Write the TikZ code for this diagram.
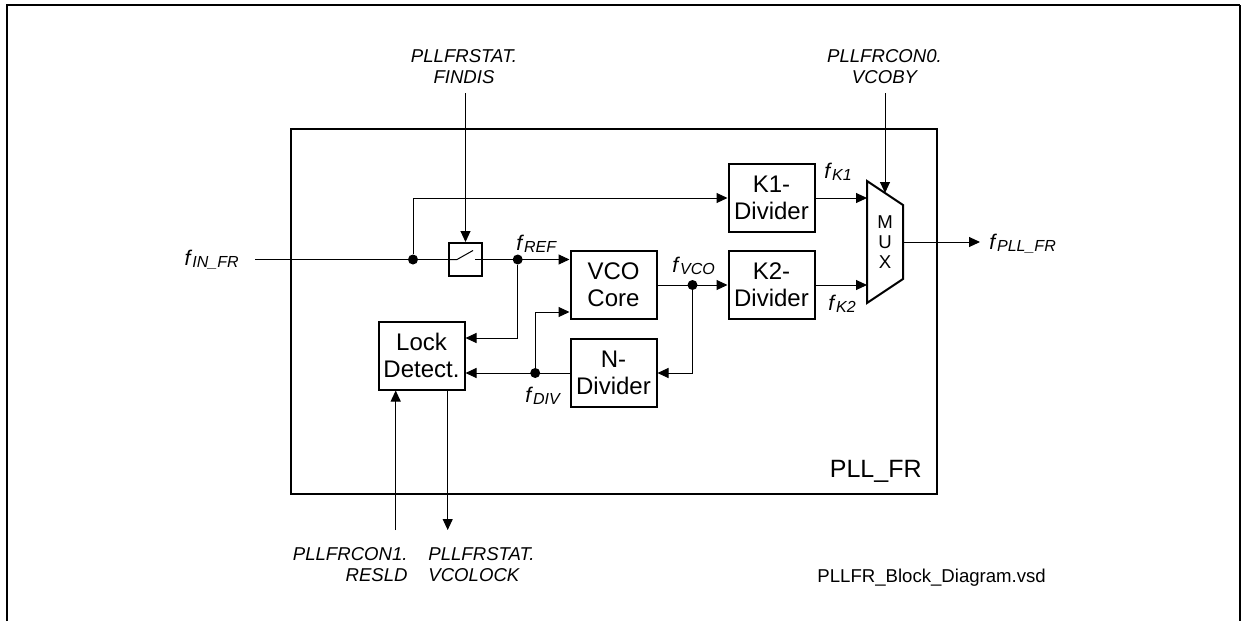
\documentclass[tikz,border=0pt]{standalone}
\usepackage{fontspec}
\setmainfont{Liberation Sans}
\usepackage{tikz}
\usetikzlibrary{arrows.meta,positioning,calc}
\newcommand{\fsig}[1]{\textit{f}\raisebox{-1pt}{\fontsize{8}{8}\selectfont\textit{#1}}}
\tikzset{
  blk/.style  = {draw, line width=1pt, minimum width=43pt, minimum height=34pt,
                 inner sep=1pt, align=center, font=\fontsize{12}{13.5}\selectfont},
  sig/.style  = {-{Triangle[length=5.5pt,width=5pt]}, line width=0.5pt},
  wire/.style = {line width=0.5pt},
  jdot/.style = {circle, fill, inner sep=0pt, minimum size=5pt},
  reg/.style  = {font=\fontsize{9.3}{10.5}\selectfont\itshape, inner sep=0pt, align=center},
  flbl/.style = {font=\fontsize{10.6}{12}\selectfont, inner sep=0pt},
}
\begin{document}
\begin{tikzpicture}[x=0.5pt, y=-0.5pt, node distance=9pt and 35pt]
  \useasboundingbox (0,0) rectangle (1241,621);
  % page frame
  \draw[line width=1pt] (7,621) -- (7,5) -- (1240,5);
  \draw[line width=0.75pt] (1240,5) -- (1240,621);
  % PLL_FR module
  \node[draw, line width=1pt, minimum width=323pt, minimum height=182.5pt, anchor=north west] (pll) at (290,128) {};
  \node[anchor=base east, inner sep=0pt, font=\fontsize{12.5}{14}\selectfont] (pllname) at (922,477) {PLL\_FR};
  % blocks
  \node[blk] (vco) at (613.5,285) {VCO\\Core};
  \node[blk, right=of vco] (k2) {K2-\\Divider};
  \node[blk, above=8.5pt of k2] (k1) {K1-\\Divider};
  \node[blk, below=of vco] (ndiv) {N-\\Divider};
  \node[blk] (lock) at (421.5,355.5) {Lock\\Detect.};
  \node[draw, line width=1pt, minimum size=16.5pt, inner sep=0pt] (sw) at (465.5,259.5) {};
  % multiplexer
  \node[align=center, minimum width=18pt, minimum height=61pt, inner sep=0pt, outer sep=0pt,
        font=\fontsize{9.3}{10}\selectfont] (mux) at (885,242) {M\\U\\X};
  \draw[line width=1pt] (mux.north west) -- ($(mux.north east)+(0,24)$)
    -- ($(mux.south east)+(0,-24)$) -- (mux.south west) -- cycle;
  % junctions
  \coordinate (fin) at (255,259.5);
  \node[jdot] (din) at (413,259.5) {};
  \node[jdot] (dref) at (517.7,259.5) {};
  \node[jdot] (dvco) at ($(vco.east)!0.5!(k2.west)$) {};
  \node[jdot] (ddiv) at ($(ndiv.west)+(-34.3,0)$) {};
  % signal paths
  \draw[wire] (fin) -- (sw.west);
  \draw[wire] (sw.west) -- ++(9,0) -- ++(16,-9);
  \draw[wire] ($(sw.east)+(-8,0)$) -- (sw.east);
  \draw[sig] (sw.east) -- (sw.east -| vco.west);
  \draw[sig] (din) |- (k1.west);
  \draw[sig] (dref) |- ($(lock.east)+(0,-17.5)$);
  \draw[sig] (vco.east) -- (k2.west);
  \draw[sig] (dvco) |- (ndiv.east);
  \draw[sig] (ndiv.west) -- (lock.east |- ndiv.west);
  \draw[sig] (ddiv) |- ($(vco.west)+(0,27)$);
  \draw[sig] (k1.east) -- (k1.east -| mux.west);
  \draw[sig] (k2.east) -- (k2.east -| mux.west);
  \coordinate (fout) at (980,242);
  \draw[sig] (mux.east) -- (fout);
  % signal names
  \node[flbl, anchor=base east] (finl) at (239,265) {\fsig{IN\_FR}};
  \node[flbl, anchor=base west] (fpll) at (989,249) {\fsig{PLL\_FR}};
  \node[flbl, anchor=base west] (fref) at (516,250) {\fsig{REF}};
  \node[flbl, anchor=base west] (fvco) at (672,272) {\fsig{VCO}};
  \node[flbl, anchor=base west] (fk1) at (824,178) {\fsig{K1}};
  \node[flbl, anchor=base west] (fk2) at (828,310) {\fsig{K2}};
  \node[flbl, anchor=base west] (fdiv) at (525,402) {\fsig{DIV}};
  % register bits
  \node[reg, outer ysep=4.5pt] (findis) at (464,67) {PLLFRSTAT.\\FINDIS};
  \draw[sig] (findis.south -| sw) -- (sw.north);
  \node[reg, outer ysep=4.5pt] (vcoby) at (884.5,67) {PLLFRCON0.\\VCOBY};
  \draw[sig] (vcoby.south -| mux) -- ($(mux.north)+(0,12)$);
  \node[reg, align=right, anchor=north east] (resld) at (408,547) {PLLFRCON1.\\RESLD};
  \node[reg, align=left, anchor=north west] (vlock) at (428,547) {PLLFRSTAT.\\VCOLOCK};
  \coordinate (rin) at (395.7,530);
  \coordinate (vout) at (447.7,530);
  \draw[sig] (rin) -- (rin |- lock.south);
  \draw[sig] (vout |- lock.south) -- (vout);
  \node[anchor=base west, inner sep=0pt, font=\fontsize{9.3}{10}\selectfont] (fname) at (817,582) {PLLFR\_Block\_Diagram.vsd};
\end{tikzpicture}
\end{document}
